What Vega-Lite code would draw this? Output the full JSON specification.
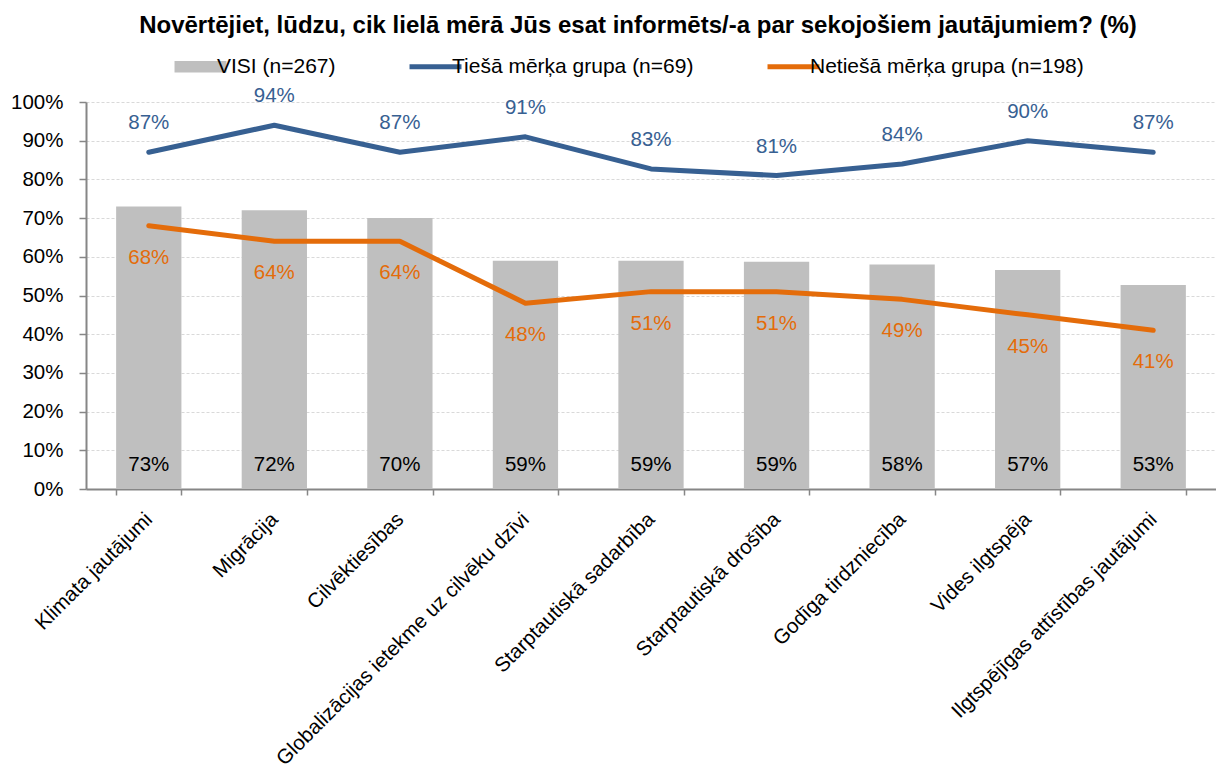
{
  "$schema": "https://vega.github.io/schema/vega-lite/v6.json",
  "width": 1130,
  "height": 387,
  "autosize": {"type": "none"},
  "padding": {"left": 86, "top": 102, "right": 0, "bottom": 287},
  "title": {
    "text": "Novērtējiet, lūdzu, cik lielā mērā Jūs esat informēts/-a par sekojošiem jautājumiem? (%)",
    "font": "Liberation Sans",
    "fontSize": 24,
    "fontWeight": "bold",
    "color": "black",
    "anchor": "middle",
    "dx": -13,
    "offset": 18
  },
  "config": {
    "font": "Liberation Sans",
    "view": {"stroke": null}
  },
  "resolve": {"axis": {"y": "independent"}},
  "data": {
    "values": [
      {"kat": "Klimata jautājumi", "visi": 0.73, "tiesa": 0.87, "netiesa": 0.68},
      {"kat": "Migrācija", "visi": 0.72, "tiesa": 0.94, "netiesa": 0.64},
      {"kat": "Cilvēktiesības", "visi": 0.70, "tiesa": 0.87, "netiesa": 0.64},
      {"kat": "Globalizācijas ietekme uz cilvēku dzīvi", "visi": 0.59, "tiesa": 0.91, "netiesa": 0.48},
      {"kat": "Starptautiskā sadarbība", "visi": 0.59, "tiesa": 0.827, "netiesa": 0.51},
      {"kat": "Starptautiskā drošība", "visi": 0.587, "tiesa": 0.81, "netiesa": 0.51},
      {"kat": "Godīga tirdzniecība", "visi": 0.58, "tiesa": 0.84, "netiesa": 0.49},
      {"kat": "Vides ilgtspēja", "visi": 0.566, "tiesa": 0.90, "netiesa": 0.45},
      {"kat": "Ilgtspējīgas attīstības jautājumi", "visi": 0.527, "tiesa": 0.87, "netiesa": 0.41}
    ]
  },
  "encoding": {
    "x": {
      "field": "kat",
      "type": "nominal",
      "sort": null,
      "scale": {"paddingInner": 0.48, "paddingOuter": 0.24},
      "axis": {
        "title": null,
        "labelAngle": -45,
        "labelAlign": "right",
        "labelBaseline": "middle",
        "labelFontSize": 20.5,
        "labelColor": "black",
        "labelLimit": 600,
        "labelPadding": 21,
        "tickBand": "extent",
        "tickSize": 6,
        "tickColor": "#868686",
        "tickWidth": 1.5,
        "domainColor": "#868686",
        "domainWidth": 2,
        "grid": false
      }
    }
  },
  "layer": [
    {
      "mark": {"type": "bar"},
      "encoding": {
        "y": {
          "field": "visi",
          "type": "quantitative",
          "scale": {"domain": [0, 1], "nice": false},
          "axis": {
            "title": null,
            "values": [0, 0.1, 0.2, 0.3, 0.4, 0.5, 0.6, 0.7, 0.8, 0.9, 1],
            "format": ".0%",
            "labelFontSize": 20.5,
            "labelColor": "black",
            "labelPadding": 16,
            "labelOverlap": false,
            "labelFlush": false,
            "tickSize": 7,
            "tickColor": "#868686",
            "tickWidth": 1.5,
            "domainColor": "#868686",
            "domainWidth": 2,
            "grid": true,
            "gridColor": "#d9d9d9",
            "gridDash": [3, 2],
            "gridWidth": 1
          }
        },
        "color": {
          "datum": "VISI (n=267)",
          "type": "nominal",
          "scale": {
            "domain": ["VISI (n=267)", "Tiešā mērķa grupa (n=69)", "Netiešā mērķa grupa (n=198)"],
            "range": ["#bfbfbf", "#376092", "#e46c0a"]
          },
          "legend": {
            "orient": "none",
            "legendX": 104,
            "legendY": -46,
            "direction": "horizontal",
            "title": null,
            "labelFontSize": 21,
            "labelColor": "black",
            "labelFont": "Liberation Sans",
            "labelLimit": 500,
            "symbolSize": 2700,
            "columnPadding": 63,
            "labelOffset": 6,
            "padding": 0,
            "symbolOpacity": 1,
            "encode": {
              "symbols": {
                "update": {
                  "shape": {"signal": "datum.value === 'VISI (n=267)' ? 'M-1,-0.22H1V0.22H-1Z' : 'stroke'"},
                  "strokeWidth": {"signal": "datum.value === 'VISI (n=267)' ? 0 : 5"},
                  "fill": {"signal": "scale('color', datum.value)"},
                  "stroke": {"signal": "scale('color', datum.value)"},
                  "opacity": {"value": 1}
                }
              }
            }
          }
        }
      }
    },
    {
      "mark": {"type": "text", "fontSize": 20.5, "color": "black", "baseline": "middle", "dy": -24},
      "encoding": {
        "y": {"datum": 0, "type": "quantitative", "axis": null},
        "text": {"field": "visi", "type": "quantitative", "format": ".0%"}
      }
    },
    {
      "mark": {"type": "line", "strokeWidth": 5, "strokeCap": "round", "strokeJoin": "round"},
      "encoding": {
        "y": {"field": "tiesa", "type": "quantitative", "axis": null},
        "color": {"datum": "Tiešā mērķa grupa (n=69)", "type": "nominal"}
      }
    },
    {
      "mark": {"type": "text", "fontSize": 20.5, "color": "#376092", "baseline": "middle", "dy": -29},
      "encoding": {
        "y": {"field": "tiesa", "type": "quantitative", "axis": null},
        "text": {"field": "tiesa", "type": "quantitative", "format": ".0%"}
      }
    },
    {
      "mark": {"type": "line", "strokeWidth": 5, "strokeCap": "round", "strokeJoin": "round"},
      "encoding": {
        "y": {"field": "netiesa", "type": "quantitative", "axis": null},
        "color": {"datum": "Netiešā mērķa grupa (n=198)", "type": "nominal"}
      }
    },
    {
      "mark": {"type": "text", "fontSize": 20.5, "color": "#e46c0a", "baseline": "middle", "dy": 32},
      "encoding": {
        "y": {"field": "netiesa", "type": "quantitative", "axis": null},
        "text": {"field": "netiesa", "type": "quantitative", "format": ".0%"}
      }
    }
  ]
}
